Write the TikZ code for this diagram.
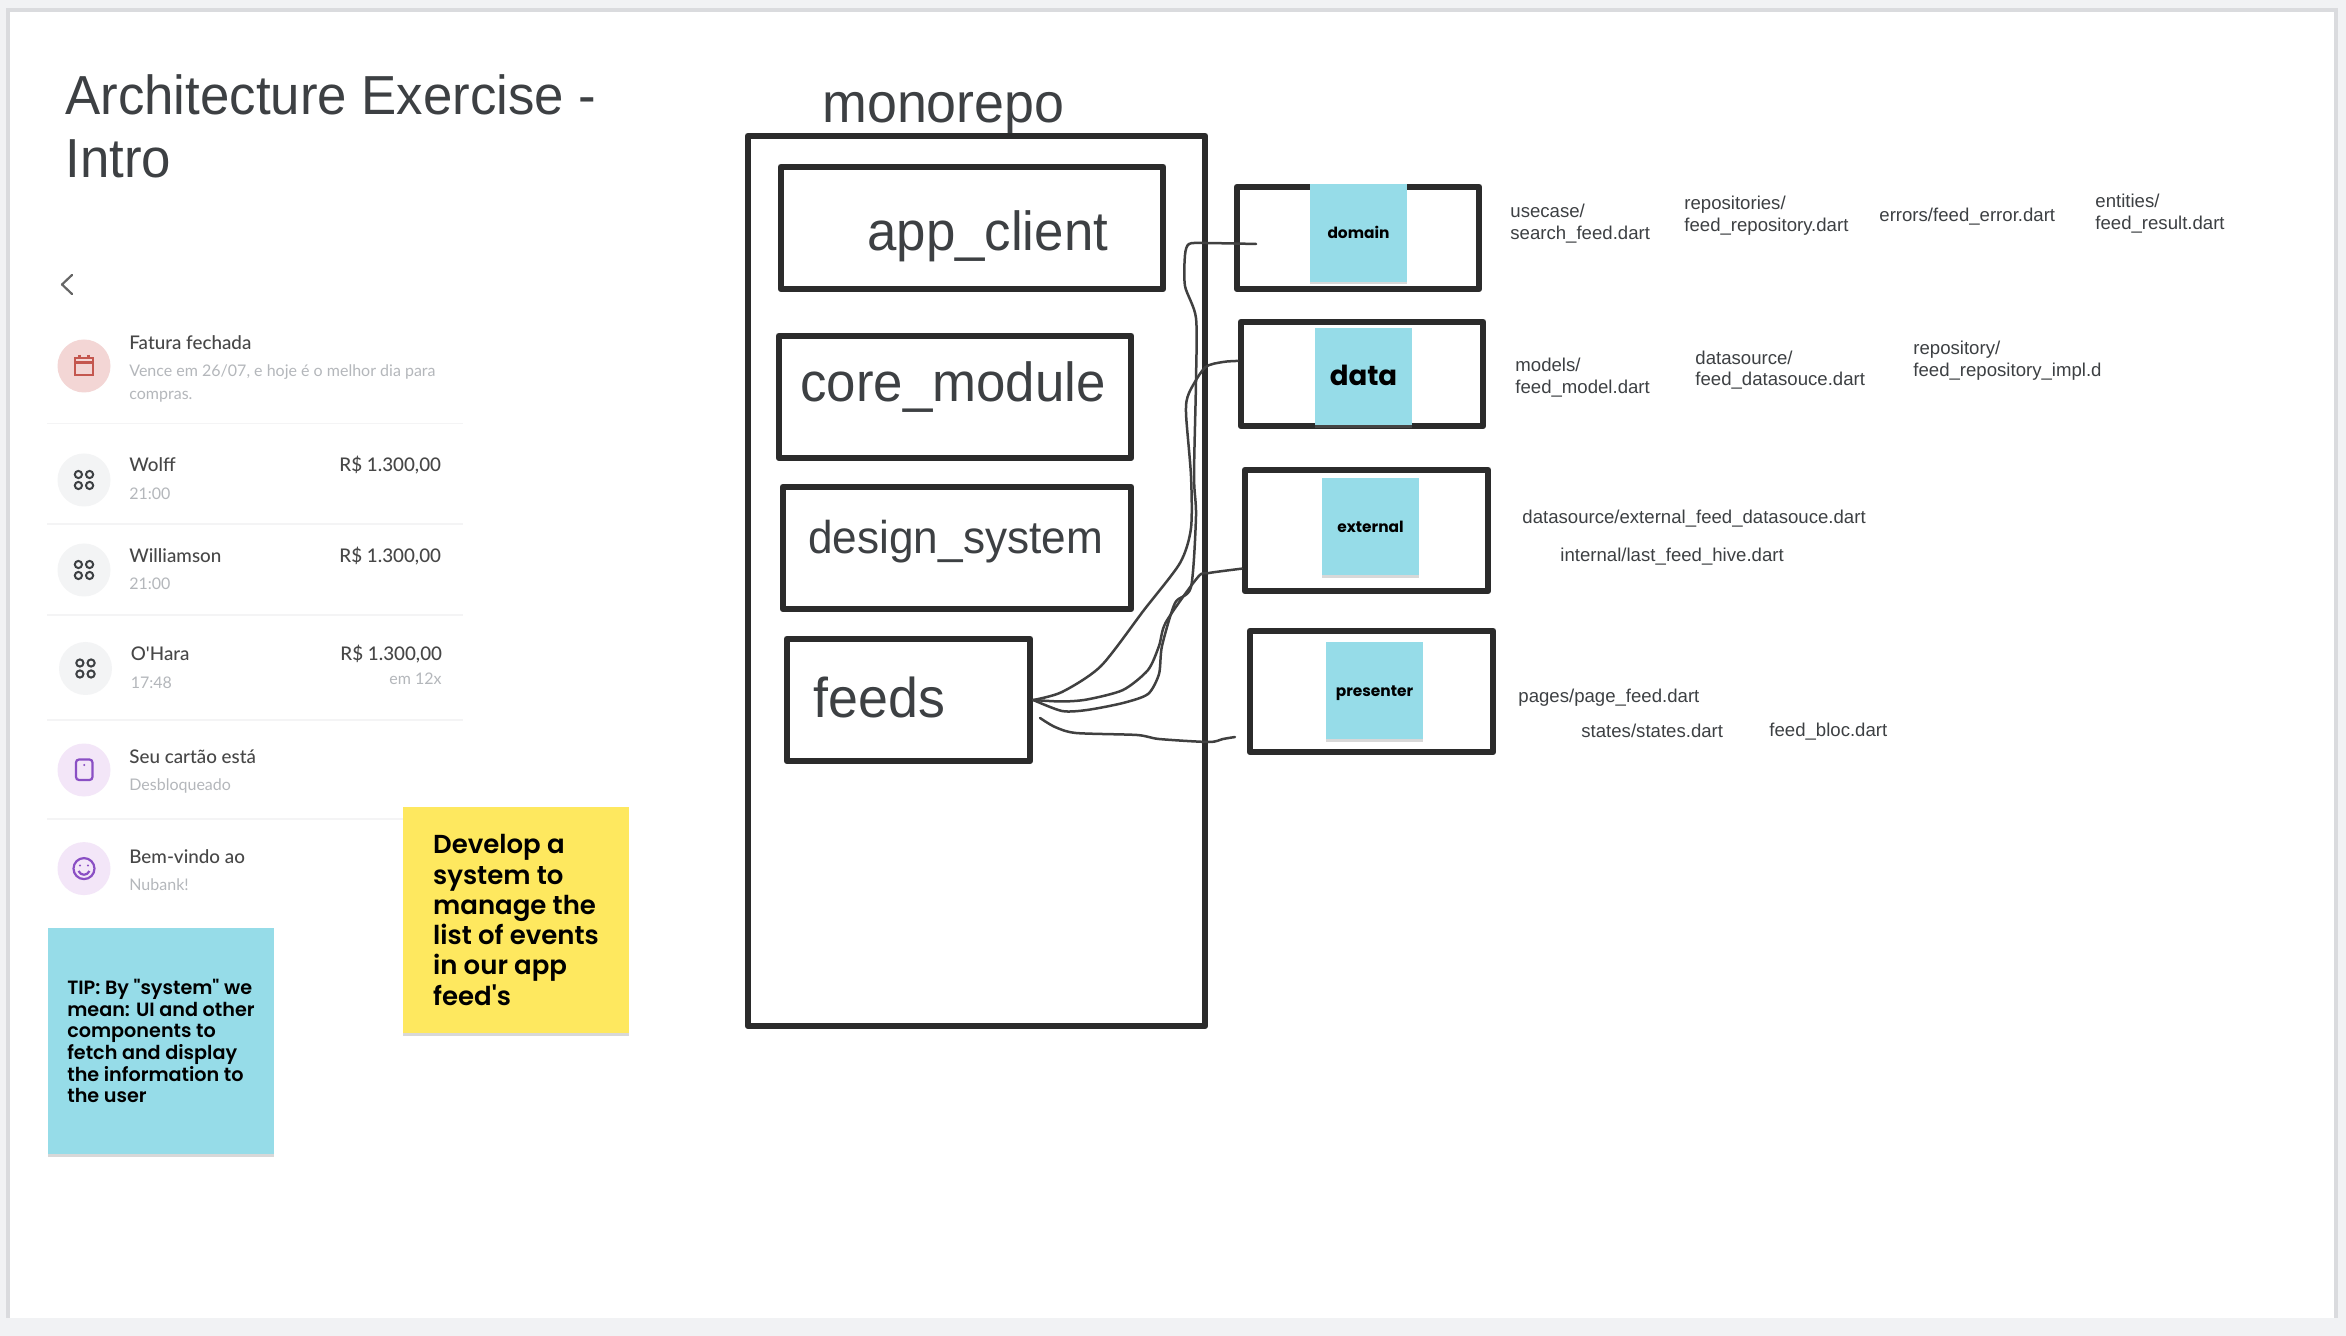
\documentclass[tikz,border=0pt]{standalone}
\usepackage{fontspec}
\setmainfont{Liberation Sans}
\newfontfamily\narrowfont[FakeStretch=0.96]{Liberation Sans}
\newfontfamily\stickyfont[BoldFont={* SemiBold}]{Poppins}
\newfontfamily\stickyheavy{Poppins}
\newfontfamily\appfont{Lato}
\newfontfamily\apptitlefont{Lato Medium}
\usetikzlibrary{shadows}
\definecolor{pagegrey}{HTML}{F1F2F4}
\definecolor{framegrey}{HTML}{DADBDE}
\definecolor{boxline}{HTML}{2B2B2B}
\definecolor{inkgrey}{HTML}{3D4043}
\definecolor{wiregrey}{HTML}{404040}
\definecolor{noteblue}{HTML}{96DCE8}
\definecolor{noteyellow}{HTML}{FEE85F}
\definecolor{softgrey}{HTML}{B4B7BB}
\definecolor{rowgrey}{HTML}{F3F4F5}
\definecolor{rowline}{HTML}{F4F4F5}
\definecolor{appred}{HTML}{F3D6D5}
\definecolor{iconred}{HTML}{C4574F}
\definecolor{applilac}{HTML}{F3E6F8}
\definecolor{iconlilac}{HTML}{8A4FC4}
\tikzset{
	modbox/.style={draw=boxline, line width=3.3pt, line join=round, inner sep=0},
	wire/.style={draw=wiregrey, line width=1.25pt, line cap=round},
	sticky/.style={fill=noteblue, inner sep=0, text=black, drop shadow={shadow xshift=0pt, shadow yshift=-1.3pt, opacity=0.3}},
	smallnote/.style={sticky, minimum width=48.5pt, minimum height=48.7pt, text height=5.6pt, text depth=0pt, font=\stickyheavy\bfseries\fontsize{7.7pt}{9pt}\selectfont},
	bignote/.style={sticky, minimum width=113pt, minimum height=113pt, align=left},
	bigname/.style={inner sep=0, anchor=base west, text=inkgrey, font=\narrowfont\fontsize{27.5pt}{32pt}\selectfont},
	dartname/.style={inner sep=0, anchor=base west, text=inkgrey, font=\fontsize{9.3pt}{11pt}\selectfont},
	rowtitle/.style={inner sep=0, anchor=base west, text=black!72, font=\apptitlefont\fontsize{9.4pt}{11pt}\selectfont},
	rowsub/.style={inner sep=0, anchor=base west, text=softgrey, font=\appfont\fontsize{8pt}{11pt}\selectfont},
	rowprice/.style={inner sep=0, anchor=base east, text=black!72, font=\apptitlefont\fontsize{9.4pt}{11pt}\selectfont}
}
\def\modulebox(#1)(#2,#3)(#4,#5){\node[modbox, minimum width={(#4-#2)*0.5pt}, minimum height={(#5-#3)*0.5pt}] (#1) at ({(#2+#4)/2},{(#3+#5)/2}) {};}
\def\fourdots(#1,#2){\fill[rowgrey] (#1,#2) circle (26.5);
	\foreach \dx in {-5.6,5.6} \foreach \dy in {-5.5,5.5} \draw[line width=1pt, color=inkgrey] (#1+\dx,#2+\dy) circle (3.6);}
\begin{document}
\begin{tikzpicture}[x=0.5pt, y=-0.5pt]
	%%%%% PAGE %%%%%
	\path[use as bounding box, fill=pagegrey] (0,0) rectangle (2346,1336);
	\fill[framegrey] (6,8) rectangle (2338,1318);
	\fill[white] (10,12) rectangle (2334,1318);
	
	\node[inner sep=0, anchor=base west, align=left, text=inkgrey, font=\narrowfont\fontsize{27.5pt}{31.5pt}\selectfont] (title) at (65,177.5) {Architecture Exercise -\\Intro};
	
	%%%%% APP SCREEN %%%%%
	\draw[line width=1.1pt, color=black!60, line cap=round, line join=round] (72,275) -- (62,284.5) -- (72,294);
	
	\foreach \sepy/\sepx in {423.5/463, 524/463, 615/463, 720/463, 818.6/403} \draw[line width=0.9pt, color=rowline] (47,\sepy) -- (\sepx,\sepy);
	
	\fill[appred] (84,366) circle (26.5);
	\draw[line width=1.1pt, color=iconred] (75,358) rectangle (93,375);
	\draw[line width=1.1pt, color=iconred] (75,362.5) -- (93,362.5);
	\draw[line width=1.1pt, color=iconred] (79.5,355) -- (79.5,358);
	\draw[line width=1.1pt, color=iconred] (88.5,355) -- (88.5,358);
	\node[rowtitle] (fatura) at (129,349.5) {Fatura fechada};
	\node[rowsub] (vence) at (129,377) {Vence em 26/07, e hoje é o melhor dia para};
	\node[rowsub] (compras) at (129,399.5) {compras.};
	
	\fourdots(84,480)
	\node[rowtitle] (wolff) at (129,472) {Wolff};
	\node[rowsub] (wolfftime) at (129,500) {21:00};
	\node[rowprice] (wolffprice) at (441.5,472) {R\$ 1.300,00};
	
	\fourdots(84,570)
	\node[rowtitle] (williamson) at (129,562.5) {Williamson};
	\node[rowsub] (williamsontime) at (129,590) {21:00};
	\node[rowprice] (williamsonprice) at (441.5,562.5) {R\$ 1.300,00};
	
	\fourdots(85.5,668.5)
	\node[rowtitle] (ohara) at (130.5,660.6) {O'Hara};
	\node[rowsub] (oharatime) at (130.5,689) {17:48};
	\node[rowprice] (oharaprice) at (442.5,660.6) {R\$ 1.300,00};
	\node[rowsub, anchor=base east] (oharaterm) at (442,685) {em 12x};
	
	\fill[applilac] (84,770) circle (26.5);
	\draw[line width=1.1pt, color=iconlilac, rounded corners=1.5pt] (76,759.5) rectangle (92.5,780);
	\fill[iconlilac] (84.2,765) circle (1.1);
	\node[rowtitle] (cartao) at (129,763.6) {Seu cartão está};
	\node[rowsub] (desbloqueado) at (129,791) {Desbloqueado};
	
	\fill[applilac] (84,868.6) circle (26.5);
	\draw[line width=1.1pt, color=iconlilac] (84,868.6) circle (10.5);
	\fill[iconlilac] (80,865.5) circle (1.2);
	\fill[iconlilac] (88,865.5) circle (1.2);
	\draw[line width=1.1pt, color=iconlilac] (78.5,871) .. controls (81,876) and (87,876) .. (89.5,871);
	\node[rowtitle] (bemvindo) at (129,863.5) {Bem-vindo ao};
	\node[rowsub] (nubank) at (129,890.6) {Nubank!};
	
	%%%%% NOTES %%%%%
	\node[bignote, fill=noteyellow, font=\stickyfont\bfseries\fontsize{13pt}{15.15pt}\selectfont] (goalnote) at (516,920) {Develop a\\system to\\manage the\\list of events\\in our app\\feed's};
	\node[bignote, font=\stickyfont\bfseries\fontsize{9.6pt}{10.85pt}\selectfont] (tipnote) at (161,1041) {TIP: By "system" we\\mean: UI and other\\components to\\fetch and display\\the information to\\the user};
	
	%%%%% MONOREPO %%%%%
	\node[bigname, font=\narrowfont\fontsize{28pt}{32pt}\selectfont] (monorepo) at (822,123) {monorepo};
	\modulebox(repobox)(748,136)(1205,1026)
	\modulebox(appclient)(781,167)(1163,289)
	\modulebox(coremodule)(779,336)(1131,458)
	\modulebox(designsystem)(783,487)(1131,609)
	\modulebox(feeds)(787,639)(1030,761)
	\node[bigname] (appclientname) at (867,251) {app\_client};
	\node[bigname] (coremodulename) at (800,401.5) {core\_module};
	\node[bigname, font=\narrowfont\fontsize{23pt}{30pt}\selectfont] (designsystemname) at (808,553.5) {design\_system};
	\node[bigname, font=\narrowfont\fontsize{28pt}{32pt}\selectfont] (feedsname) at (813,717.5) {feeds};
	
	%%%%% LAYERS %%%%%
	\modulebox(domain)(1237,187)(1479,289)
	\modulebox(data)(1241,322)(1483,426)
	\modulebox(external)(1245,470)(1488,591)
	\modulebox(presenter)(1250,631)(1493,752)
	
	\node[smallnote] (domainnote) at (1358.5,233) {domain};
	\node[smallnote, text height=9.5pt, font=\stickyheavy\bfseries\fontsize{13.8pt}{16pt}\selectfont] (datanote) at (1363.5,376.5) {data};
	\node[smallnote] (externalnote) at (1370.5,526.5) {external};
	\node[smallnote] (presenternote) at (1374.5,690.5) {presenter};
	
	\coordinate (domainend) at (1256,244);
	\coordinate (presenterend) at (1235,737);
	\coordinate (presenterstart) at (1040,718);
	
	\draw[wire] plot[smooth, tension=0.45] coordinates {(feeds.east) (1062,711) (1087,710) (1123,703) (1148,694) (1159,674) (1162,646) (1175,603) (1191,587) (1196,516) (1194,476) (1196,381) (1196,318) (1185,286) (1185,255) (1189,244) (1205,243) (domainend)};
	\draw[wire] plot[smooth, tension=0.45] coordinates {(feeds.east) (1062,692) (1101,666) (1144,610) (1180,563) (1191,528) (1191,476) (1186,413) (1189,393) (1205,367.5) (1223,362) (data.174.5)};
	\draw[wire] plot[smooth, tension=0.45] coordinates {(feeds.east) (1062,701.5) (1087,699.5) (1123,690) (1148,670) (1159,646) (1166,622) (1198,577) (1209,573) (external.197)};
	\draw[wire] plot[smooth, tension=0.45] coordinates {(presenterstart) (1055,727) (1076,733) (1137,735) (1159,739) (1209,742) (1223,739) (presenterend)};
	
	%%%%% FILES %%%%%
	\node[dartname] (usecase) at (1510,218) {usecase/};
	\node[dartname] (searchfeed) at (1510,240) {search\_feed.dart};
	\node[dartname] (repositories) at (1684,210) {repositories/};
	\node[dartname] (feedrepository) at (1684,232) {feed\_repository.dart};
	\node[dartname] (feederror) at (1879,222) {errors/feed\_error.dart};
	\node[dartname] (entities) at (2095,208) {entities/};
	\node[dartname] (feedresult) at (2095,230) {feed\_result.dart};
	
	\node[dartname] (models) at (1515,372) {models/};
	\node[dartname] (feedmodel) at (1515,394) {feed\_model.dart};
	\node[dartname] (datasource) at (1695,364.5) {datasource/};
	\node[dartname] (feeddatasouce) at (1695,386) {feed\_datasouce.dart};
	\node[dartname] (repository) at (1913,355) {repository/};
	\node[dartname] (repositoryimpl) at (1913,377) {feed\_repository\_impl.d};
	
	\node[dartname] (externalsource) at (1522,523.5) {datasource/external\_feed\_datasouce.dart};
	\node[dartname] (lastfeed) at (1560,561.5) {internal/last\_feed\_hive.dart};
	
	\node[dartname] (pagefeed) at (1518,702.5) {pages/page\_feed.dart};
	\node[dartname] (states) at (1581,737.5) {states/states.dart};
	\node[dartname] (feedbloc) at (1769,736.5) {feed\_bloc.dart};
\end{tikzpicture}
\end{document}
